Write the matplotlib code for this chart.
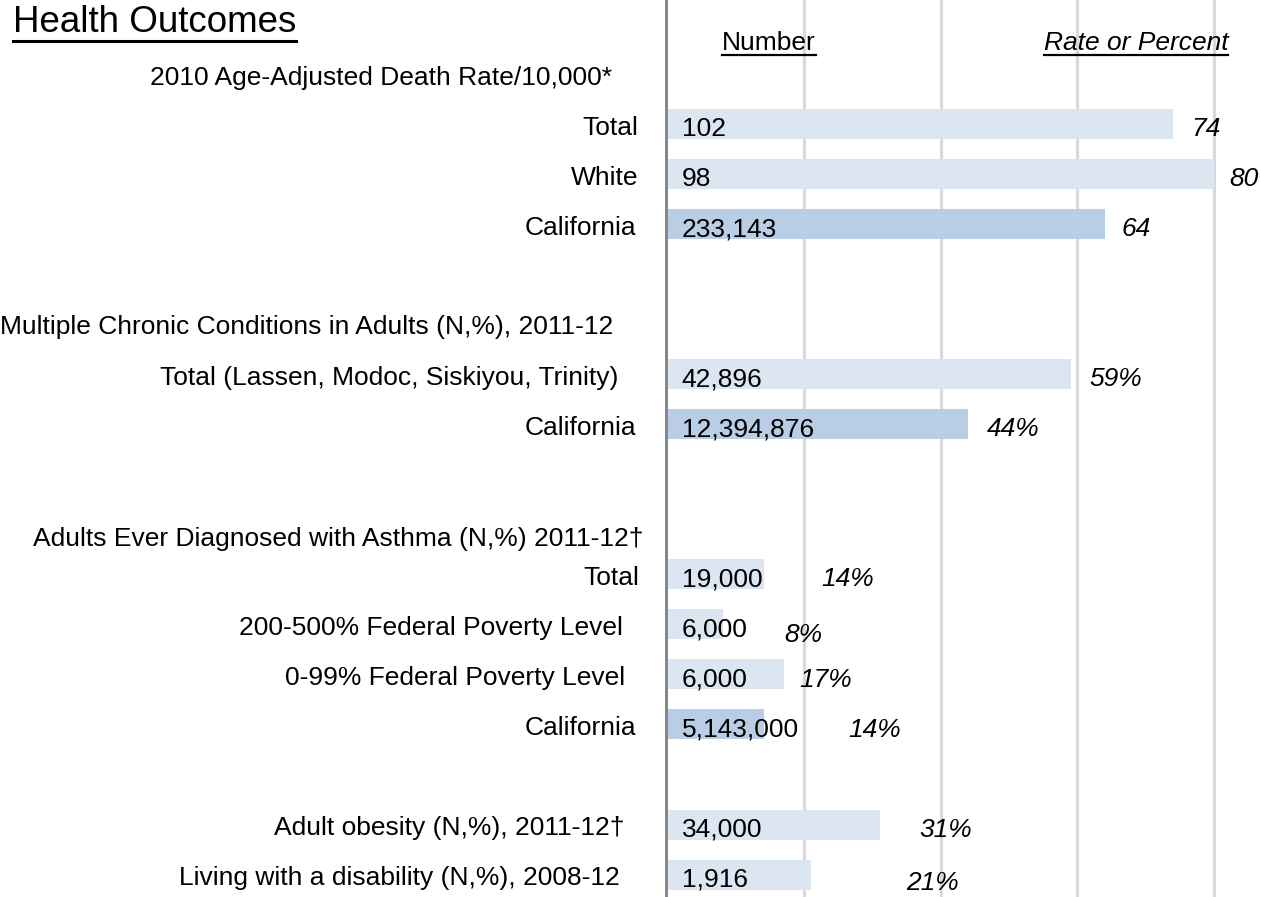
import matplotlib
matplotlib.use('Agg')
import matplotlib.pyplot as plt
from matplotlib.lines import Line2D

plt.rcParams['font.family'] = ['Liberation Sans', 'DejaVu Sans']

# ---------------- data ----------------
title = "Health Outcomes"
col_number = "Number"
col_rate = "Rate or Percent"

group_headers = [
    "2010 Age-Adjusted Death Rate/10,000*",
    "Multiple Chronic Conditions in Adults (N,%), 2011-12",
    "Adults Ever Diagnosed with Asthma (N,%) 2011-12\u2020",
    None,
]
group_categories = [
    ["Total", "White", "California"],
    ["Total (Lassen, Modoc, Siskiyou, Trinity)", "California"],
    ["Total", "200-500% Federal Poverty Level", "0-99% Federal Poverty Level", "California"],
    ["Adult obesity (N,%), 2011-12\u2020", "Living with a disability (N,%), 2008-12"],
]
group_numbers = [
    ["102", "98", "233,143"],
    ["42,896", "12,394,876"],
    ["19,000", "6,000", "6,000", "5,143,000"],
    ["34,000", "1,916"],
]
group_rates = [
    [74, 80, 64],
    [59, 44],
    [14, 8, 17, 14],
    [31, 21],
]
group_rate_labels = [
    ["74", "80", "64"],
    ["59%", "44%"],
    ["14%", "8%", "17%", "14%"],
    ["31%", "21%"],
]

# ---------------- style / layout ----------------
LIGHT = '#DCE6F2'
DARK = '#B9CDE5'
GRID = '#D9D9D9'
AXIS = '#808080'
FS = 19
BASE = 0.21  # baseline offset below row centre (slots)
# rate-label offsets (data units beyond bar end) and y nudges (slots)
rate_dx = [[2.6, 2.3, 2.4], [2.8, 2.7], [8.4, 9.0, 2.3, 12.4], [5.8, 13.9]]
rate_dy = [[0, 0, 0], [0, 0], [0, 0.12, 0, 0], [0, 0.06]]
# category label right-edge gap from axis (pixels)
cat_gap = [[30, 30, 32], [50, 32], [29, 45, 43, 32], [44, 48]]
head_gap = [56, 55, 25, None]
head_dy = [0, -0.02, 0.22, 0]

fig = plt.figure(figsize=(12.61, 8.97), dpi=100)
ax = fig.add_axes([0, 0, 1, 1])
ax.set_xlim(-97.88, 86.89)
ax.set_ylim(17.45, -0.49)
ax.axis('off')

for g in (20, 40, 60, 80):
    ax.axvline(g, color=GRID, lw=2.3, zorder=0)

PX = 0.72  # points per pixel at dpi 100
slot = 1
for gi, cats in enumerate(group_categories):
    if gi > 0:
        slot += 1
    if group_headers[gi] is not None:
        ax.annotate(group_headers[gi], xy=(0, slot + BASE + head_dy[gi]),
                    xytext=(-head_gap[gi] * PX, 0), textcoords='offset points',
                    ha='right', va='baseline', fontsize=FS, color='black')
        slot += 1
    for ci, cat in enumerate(cats):
        color = DARK if cat == "California" else LIGHT
        val = group_rates[gi][ci]
        ax.barh(slot, val, height=0.6, color=color, left=0, zorder=1)
        ax.annotate(cat, xy=(0, slot + BASE), xytext=(-cat_gap[gi][ci] * PX, 0),
                    textcoords='offset points', ha='right', va='baseline',
                    fontsize=FS, color='black')
        ax.text(2.0, slot + BASE + 0.03, group_numbers[gi][ci], ha='left', va='baseline',
                fontsize=FS, color='black', zorder=3)
        ax.text(val + rate_dx[gi][ci], slot + BASE + 0.03 + rate_dy[gi][ci],
                group_rate_labels[gi][ci], ha='left', va='baseline',
                fontsize=FS, style='italic', color='black', zorder=3)
        slot += 1

ax.axvline(-0.25, color=AXIS, lw=2.0, zorder=4)

t_title = ax.text(-96.0, 0.15, title, ha='left', va='baseline', fontsize=26.5, color='black')
t_num = ax.text(14.8, 0.51, col_number, ha='center', va='baseline', fontsize=FS, color='black')
t_rate = ax.text(68.6, 0.51, col_rate, ha='center', va='baseline', fontsize=FS,
                 style='italic', color='black')

fig.canvas.draw()
renderer = fig.canvas.get_renderer()
for t, drop, lw in ((t_title, 9.5, 2.2), (t_num, 5.5, 1.6), (t_rate, 5.5, 1.6)):
    bb = t.get_window_extent(renderer)
    _, y_base = ax.transData.transform((0, t.get_position()[1]))
    y = y_base - drop
    fig.add_artist(Line2D([bb.x0, bb.x1], [y, y], transform=None, color='black', lw=lw))

fig.savefig('out.png', dpi=100)
